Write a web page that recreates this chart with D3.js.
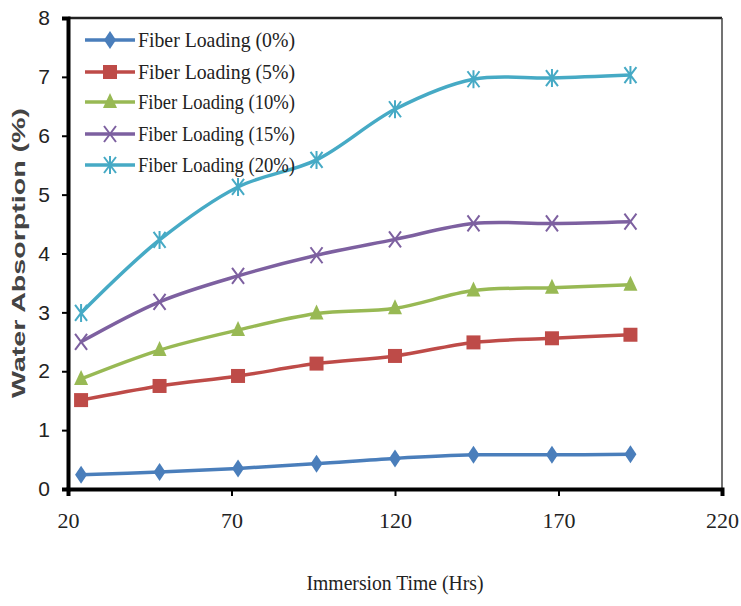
<!DOCTYPE html>
<html>
<head>
<meta charset="utf-8">
<script src="https://cdn.jsdelivr.net/npm/d3@7"></script>
<style>
  body { margin: 0; background: #fff; }
  text { font-family: "Liberation Serif", "Times New Roman", serif; }
</style>
</head>
<body>
<div id="chart"></div>
<script>
// data
var hours = [24, 48, 72, 96, 120, 144, 168, 192];
var load0  = [0.24, 0.29, 0.35, 0.43, 0.52, 0.58, 0.58, 0.59];
var load5  = [1.51, 1.75, 1.92, 2.13, 2.26, 2.49, 2.56, 2.62];
var load10 = [1.87, 2.36, 2.70, 2.98, 3.07, 3.37, 3.42, 3.47];
var load15 = [2.50, 3.18, 3.62, 3.97, 4.24, 4.51, 4.51, 4.54];
var load20 = [2.99, 4.23, 5.13, 5.59, 6.45, 6.96, 6.98, 7.03];
var seriesNames = ["Fiber Loading (0%)", "Fiber Loading (5%)", "Fiber Loading (10%)",
                   "Fiber Loading (15%)", "Fiber Loading (20%)"];
var xTicks = [20, 70, 120, 170, 220];
var yTicks = [0, 1, 2, 3, 4, 5, 6, 7, 8];

var colors = ["#4a7ebb", "#be4b48", "#98b954", "#7d60a0", "#46aac5"];
var markers = ["diamond", "square", "triangle", "x", "star"];
var allSeries = [load0, load5, load10, load15, load20];

var w = 741, h = 606;
var padL = 68, padR = 722, padT = 18, padB = 489;

var svg = d3.select("#chart").append("svg")
  .attr("width", w).attr("height", h);

var x = d3.scaleLinear().domain([20, 220]).range([padL, padR]);
var y = d3.scaleLinear().domain([0, 8]).range([padB, padT]);

// frame
svg.append("line").attr("x1", padL).attr("x2", padR).attr("y1", padT).attr("y2", padT)
  .attr("stroke", "#222").attr("stroke-width", 2.5);
svg.append("line").attr("x1", padR).attr("x2", padR).attr("y1", padT).attr("y2", padB)
  .attr("stroke", "#444").attr("stroke-width", 1.5);

// axes
var xAxis = svg.append("g").attr("transform", "translate(0," + padB + ")")
  .call(d3.axisBottom(x).tickValues(xTicks).tickSize(7).tickPadding(16));
var yAxis = svg.append("g").attr("transform", "translate(" + padL + ",0)")
  .call(d3.axisLeft(y).tickValues(yTicks).tickSize(6).tickPadding(12));

[xAxis, yAxis].forEach(function(a) {
  a.select(".domain").attr("stroke", "#000").attr("stroke-width", 4);
  a.selectAll(".tick line").attr("stroke", "#000").attr("stroke-width", 2);
  a.selectAll(".tick text").attr("fill", "#222").style("font-size", "22px")
    .style("font-family", "'Liberation Serif', serif");
});
yAxis.selectAll(".tick text")
  .style("font-family", "'Liberation Sans Narrow', 'Liberation Sans', sans-serif")
  .style("font-size", "21px");

// lines
var line = d3.line()
  .x(function(d, i) { return x(hours[i]); })
  .y(function(d) { return y(d); })
  .curve(d3.curveCatmullRom.alpha(0.5));

function drawMarker(g, type, color) {
  if (type === "diamond") {
    g.append("path").attr("d", "M0,-9L6,0L0,9L-6,0Z").attr("fill", color);
  } else if (type === "square") {
    g.append("rect").attr("x", -7).attr("y", -7).attr("width", 14).attr("height", 14).attr("fill", color);
  } else if (type === "triangle") {
    g.append("path").attr("d", "M0,-9L7,6L-7,6Z").attr("fill", color);
  } else if (type === "x") {
    g.append("path").attr("d", "M-6,-8L6,8M6,-8L-6,8").attr("stroke", color).attr("stroke-width", 2);
  } else {
    g.append("path").attr("d", "M-6,-8L6,8M6,-8L-6,8M0,-9L0,9").attr("stroke", color).attr("stroke-width", 2);
  }
}

allSeries.forEach(function(s, k) {
  svg.append("path").datum(s)
    .attr("d", line)
    .attr("fill", "none")
    .attr("stroke", colors[k])
    .attr("stroke-width", 3.5);
  svg.selectAll(".m" + k).data(s).enter().append("g")
    .attr("class", "m" + k)
    .attr("transform", function(d, i) { return "translate(" + x(hours[i]) + "," + y(d) + ")"; })
    .each(function() { drawMarker(d3.select(this), markers[k], colors[k]); });
});

// legend
var legendY = [40, 72, 102, 134, 165];
seriesNames.forEach(function(name, k) {
  var g = svg.append("g").attr("transform", "translate(0," + legendY[k] + ")");
  g.append("line").attr("x1", 85).attr("x2", 135).attr("y1", 0).attr("y2", 0)
    .attr("stroke", colors[k]).attr("stroke-width", 3.5);
  var mg = g.append("g").attr("transform", "translate(110,0)");
  drawMarker(mg, markers[k], colors[k]);
  g.append("text").attr("x", 138).attr("y", 7).text(name)
    .style("font-size", "21px").attr("fill", "#222")
    .attr("textLength", 157).attr("lengthAdjust", "spacingAndGlyphs");
});

// titles
svg.append("text").attr("x", 395).attr("y", 590).attr("text-anchor", "middle")
  .style("font-size", "22px").attr("fill", "#222")
  .attr("textLength", 177).attr("lengthAdjust", "spacingAndGlyphs")
  .text("Immersion Time (Hrs)");
svg.append("text").attr("transform", "translate(25,253) rotate(-90)")
  .attr("text-anchor", "middle").style("font-size", "18px").style("font-weight", "bold")
  .style("font-family", "'Liberation Sans', sans-serif")
  .attr("textLength", 290).attr("lengthAdjust", "spacingAndGlyphs")
  .attr("fill", "#444").text("Water Absorption (%)");
</script>
</body>
</html>
